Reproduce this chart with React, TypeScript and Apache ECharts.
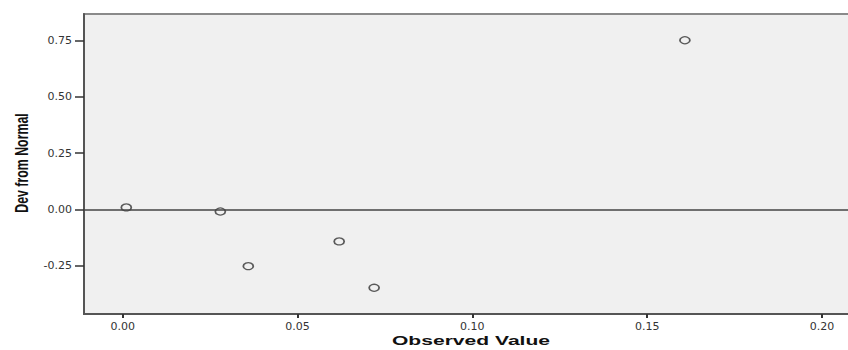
import React, { useEffect, useRef } from "react";
import * as echarts from "echarts";

const observed = [0.001, 0.0279, 0.0359, 0.0619, 0.0719, 0.1608];
const devFromNormal = [0.009, -0.009, -0.252, -0.142, -0.348, 0.752];
const xTicks = [0, 0.05, 0.1, 0.15, 0.2];
const yTicks = [-0.25, 0, 0.25, 0.5, 0.75];
const xTitle = "Observed Value";
const yTitle = "Dev from Normal";

export default function App() {
  const ref = useRef<HTMLDivElement>(null);
  useEffect(() => {
    if (!ref.current) return;
    const chart = echarts.init(ref.current, null, { renderer: "svg" });
    const points = observed.map((x, i) => [x, devFromNormal[i]]);
    chart.setOption({
      animation: false,
      backgroundColor: "#ffffff",
      grid: {
        left: 84,
        top: 14,
        right: -4,
        bottom: 36,
        outerBoundsMode: "none",
        containLabel: false,
        show: true,
        backgroundColor: "#f0f0f0",
        borderColor: "#8a8a8a",
        borderWidth: 2,
      },
      xAxis: {
        type: "value",
        min: -0.0111,
        max: 0.2086,
        splitLine: { show: false },
        axisLine: { show: true, onZero: false, lineStyle: { color: "#555", width: 2 } },
        axisTick: {
          show: true,
          length: 4,
          customValues: xTicks,
          lineStyle: { color: "#333", width: 2 },
        },
        axisLabel: {
          customValues: xTicks,
          margin: 7,
          fontFamily: "DejaVu Sans",
          fontSize: 11,
          color: "#333",
          formatter: (v: number) => v.toFixed(2),
        },
      },
      yAxis: {
        type: "value",
        min: -0.4645,
        max: 0.8686,
        splitLine: { show: false },
        axisLine: { show: true, onZero: false, lineStyle: { color: "#555", width: 2 } },
        axisTick: {
          show: true,
          length: 9,
          customValues: yTicks,
          lineStyle: { color: "#333", width: 1.5 },
        },
        axisLabel: {
          customValues: yTicks,
          margin: 12,
          fontFamily: "DejaVu Sans",
          fontSize: 11,
          color: "#333",
          formatter: (v: number) => v.toFixed(2),
        },
      },
      graphic: [
        {
          type: "text",
          x: 471,
          y: 341,
          scaleX: 1.62,
          style: {
            text: xTitle,
            font: "bold 13px 'Liberation Sans', Arial, sans-serif",
            fill: "#111",
            textAlign: "center",
            textVerticalAlign: "middle",
          },
        },
        {
          type: "text",
          x: 21,
          y: 163,
          rotation: Math.PI / 2,
          scaleX: 0.95,
          scaleY: 1.45,
          style: {
            text: yTitle,
            font: "bold 13px 'Liberation Sans', Arial, sans-serif",
            fill: "#111",
            textAlign: "center",
            textVerticalAlign: "middle",
          },
        },
      ],
      series: [
        {
          type: "scatter",
          data: points,
          symbol: "circle",
          symbolSize: [10, 7],
          itemStyle: { color: "rgba(0,0,0,0)", borderColor: "#333", borderWidth: 1.5 },
          markLine: {
            silent: true,
            symbol: "none",
            label: { show: false },
            lineStyle: { color: "#444", width: 1.5, type: "solid" },
            data: [{ yAxis: 0 }],
          },
        },
      ],
    });
    return () => chart.dispose();
  }, []);
  return (
    <div
      ref={ref}
      style={{ position: "absolute", left: 0, top: 0, width: 848, height: 350 }}
    />
  );
}
